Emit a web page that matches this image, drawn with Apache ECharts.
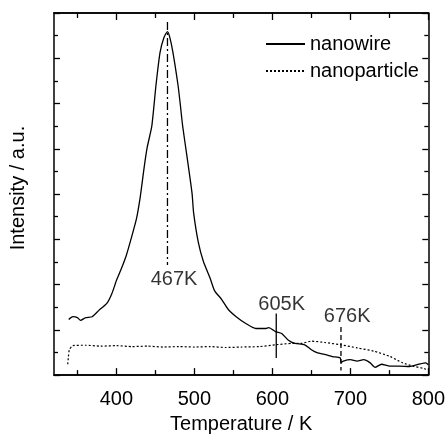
<!DOCTYPE html>
<html>
<head>
<meta charset="utf-8">
<script src="https://cdn.jsdelivr.net/npm/echarts@6/dist/echarts.min.js"></script>
<style>
  html, body { margin: 0; padding: 0; background: #fff; }
  #echart { width: 448px; height: 439px; }
</style>
</head>
<body>
<div id="echart"></div>
<script>
// data (temperature in K, intensity in arbitrary units)
var wireT = [338.9, 344, 350, 354, 360.6, 369, 377.5, 388, 394, 400.5, 406.8, 413, 419, 425.7, 430.7, 435.7, 439.5, 445.4, 450.8, 456, 461, 465.5, 468.5, 472.5, 479, 481.5, 485, 490.7, 497, 499, 505, 511.6, 520, 526, 534.7, 543, 553.6, 566, 578.7, 591, 595.5, 604, 612, 620.6, 629, 641.6, 650, 658, 666.8, 677, 687, 688, 691, 700, 708.7, 717, 725.5, 731.7, 740, 750.6, 763, 775.8, 788, 796.7, 800];
var wireI = [1.23, 1.29, 1.27, 1.21, 1.27, 1.29, 1.43, 1.59, 1.79, 2.11, 2.37, 2.66, 3.02, 3.45, 3.95, 4.60, 5.03, 5.50, 6.41, 7.13, 7.46, 7.59, 7.46, 7.13, 6.41, 6.05, 5.50, 4.81, 4.02, 3.59, 2.94, 2.51, 2.15, 1.86, 1.68, 1.46, 1.29, 1.14, 1.03, 1.03, 1.05, 0.96, 0.92, 0.77, 0.70, 0.67, 0.56, 0.49, 0.46, 0.41, 0.38, 0.28, 0.31, 0.34, 0.31, 0.34, 0.27, 0.17, 0.24, 0.20, 0.20, 0.19, 0.24, 0.27, 0.23];

var particleT = [337.6, 338.5, 339.7, 344, 360, 380, 400, 420, 440, 460, 480, 500, 520, 540, 560, 583, 604, 625, 637, 650, 667, 688, 709, 730, 751, 767, 780, 793, 797];
var particleI = [0.24, 0.41, 0.56, 0.65, 0.66, 0.64, 0.65, 0.63, 0.64, 0.62, 0.63, 0.62, 0.63, 0.61, 0.62, 0.63, 0.67, 0.70, 0.70, 0.75, 0.72, 0.67, 0.60, 0.53, 0.41, 0.27, 0.20, 0.15, 0.13];

// peak markers: x position, top and bottom of the mark, and label text/anchor
var markT = [465.5, 605, 688];
var markTop = [7.80, 1.36, 1.06];
var markBottom = [2.43, 0.38, 0.10];
var markText = ['467K', '605K', '676K'];
var markTextT = [474, 612, 696];
var markTextI = [2.11, 1.55, 1.30];

var xMajor = [400, 500, 600, 700, 800];
var xMinor = [350, 450, 550, 650, 750];

function zip(a, b) {
  var out = [];
  for (var i = 0; i < a.length; i++) out.push([a[i], b[i]]);
  return out;
}

var font = 'Liberation Sans, Arial, sans-serif';
var myChart = echarts.init(document.getElementById('echart'));

function xAxisDef(pos, ticks, len, showLabel, name) {
  return {
    type: 'value', position: pos, min: 320, max: 800, gridIndex: 0,
    name: name || '', nameLocation: 'middle', nameGap: 35,
    nameTextStyle: { color: '#000', fontSize: 20, fontFamily: font },
    axisLine: { show: true, onZero: false, lineStyle: { color: '#000', width: 1.5 } },
    axisTick: { show: true, inside: true, length: len, customValues: ticks, lineStyle: { color: '#000', width: 1.3 } },
    axisLabel: { show: showLabel, customValues: ticks, color: '#000', fontSize: 20, fontFamily: font, margin: 14 },
    splitLine: { show: false }
  };
}

function yAxisDef(pos, name) {
  return {
    type: 'value', position: pos, min: 0, max: 8, interval: 1,
    name: name || '', nameLocation: 'middle', nameGap: 26,
    nameTextStyle: { color: '#000', fontSize: 20, fontFamily: font, padding: [0, 0, 0, 12] },
    axisLine: { show: true, onZero: false, lineStyle: { color: '#000', width: 1.5 } },
    axisTick: { show: true, inside: true, length: 6, lineStyle: { color: '#000', width: 1.3 } },
    minorTick: { show: true, splitNumber: 2, length: 4, lineStyle: { color: '#000', width: 1.3 } },
    axisLabel: { show: false },
    splitLine: { show: false }
  };
}

var series = [
  {
    name: 'nanowire', type: 'line', data: zip(wireT, wireI),
    showSymbol: false, symbol: 'none', smooth: 0.2,
    lineStyle: { color: '#000', width: 1.3, type: 'solid' },
    itemStyle: { color: '#000' }
  },
  {
    name: 'nanoparticle', type: 'line', data: zip(particleT, particleI),
    showSymbol: false, symbol: 'none', smooth: 0.2,
    lineStyle: { color: '#000', width: 1.2, type: [2, 2] },
    itemStyle: { color: '#000' }
  }
];

var markStyles = [[8, 3, 2, 3], 'solid', [5, 3]];
for (var i = 0; i < markT.length; i++) {
  series.push({
    type: 'line', silent: true, symbol: 'none',
    data: [[markT[i], markTop[i]], [markT[i], markBottom[i]]],
    lineStyle: { color: '#000', width: 1.3, type: markStyles[i] }
  });
}

var labelData = [];
for (var j = 0; j < markText.length; j++) {
  labelData.push({ value: [markTextT[j], markTextI[j]], name: markText[j] });
}
series.push({
  type: 'scatter', silent: true, symbolSize: 1, data: labelData,
  itemStyle: { color: 'rgba(0,0,0,0)' },
  label: {
    show: true, position: 'inside', formatter: function (p) { return p.name; },
    color: '#000', fontSize: 20, fontFamily: font, textBorderWidth: 0
  }
});

var option = {
  animation: false,
  backgroundColor: '#fff',
  grid: { left: 51, right: 13, top: 13, bottom: 44 },
  legend: {
    orient: 'vertical', left: 260, top: 29,
    itemWidth: 39, itemHeight: 14, itemGap: 7,
    itemStyle: { opacity: 0 },
    data: ['nanowire', 'nanoparticle'],
    textStyle: { color: '#000', fontSize: 20, fontFamily: font }
  },
  xAxis: [
    xAxisDef('bottom', xMajor, 7, true, 'Temperature / K'),
    xAxisDef('bottom', xMinor, 5, false),
    xAxisDef('top', xMajor, 7, false),
    xAxisDef('top', xMinor, 5, false)
  ],
  yAxis: [
    yAxisDef('left', 'Intensity / a.u.'),
    yAxisDef('right')
  ],
  series: series
};
myChart.setOption(option);
</script>
</body>
</html>
